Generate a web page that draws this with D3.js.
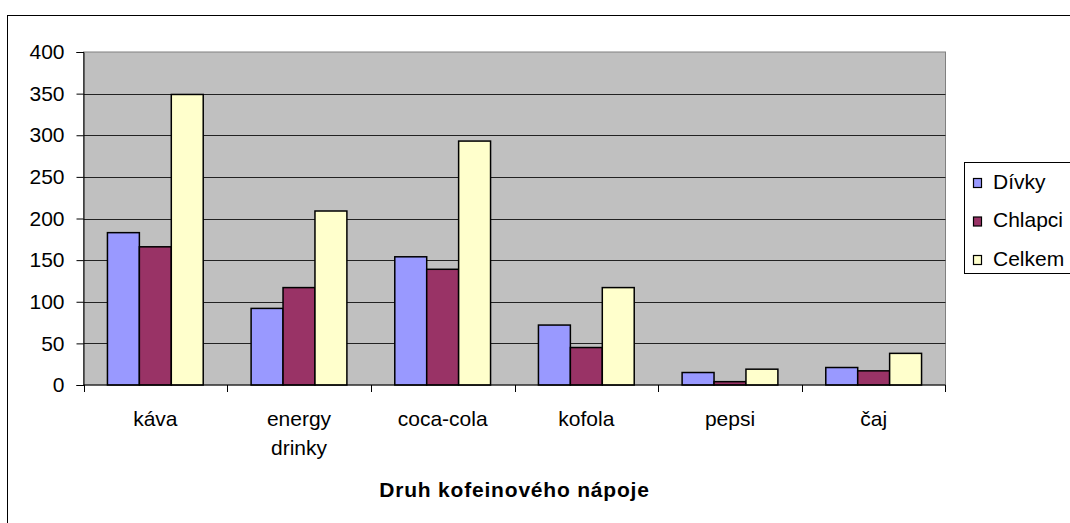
<!DOCTYPE html>
<html>
<head>
<meta charset="utf-8">
<script src="https://cdn.jsdelivr.net/npm/d3@7"></script>
<style>
  html, body { margin: 0; padding: 0; background: #fff; }
  svg { display: block; font-family: "Liberation Sans", Arial, sans-serif; }
</style>
</head>
<body>
<svg id="chart" width="1070" height="523"></svg>
<script>
// Caffeinated drinks by group
const categories = ["káva", "energy drinky", "coca-cola", "kofola", "pepsi", "čaj"];
const seriesNames = ["Dívky", "Chlapci", "Celkem"];
const divky   = [183, 92, 154, 72, 15, 21];
const chlapci = [166, 117, 139, 45, 4, 17];
const celkem  = [349, 209, 293, 117, 19, 38];
const yTicks  = [0, 50, 100, 150, 200, 250, 300, 350, 400];
const axisTitle = "Druh kofeinového nápoje";

const seriesValues = [divky, chlapci, celkem];
const colors = ["#9999ff", "#993366", "#ffffcc"];
const FONT = 21;

const svg = d3.select("#chart");
const plot = { left: 83.5, right: 945.5, top: 52, bottom: 385 };

// outer chart frame (runs past the window on the right and bottom)
svg.append("rect")
  .attr("x", 7.5).attr("y", 15.5)
  .attr("width", 1200).attr("height", 700)
  .attr("fill", "#fff").attr("stroke", "#000").attr("stroke-width", 1);

const x = d3.scaleBand().domain(categories).range([plot.left, plot.right]).padding(0);
const step = x.bandwidth();
const gap = step * 1.5 / 4.5;
const xs = d3.scaleBand().domain(seriesNames).range([gap / 2, step - gap / 2]).padding(0);
const y = d3.scaleLinear().domain([0, 400]).range([plot.bottom, plot.top]);

// plot background
svg.append("rect")
  .attr("x", plot.left).attr("y", plot.top)
  .attr("width", plot.right - plot.left).attr("height", plot.bottom - plot.top)
  .attr("fill", "#c0c0c0").attr("stroke", "#808080").attr("stroke-width", 1);

// horizontal gridlines
svg.append("g").selectAll("line")
  .data(yTicks.filter(t => t > 0 && t < 400))
  .join("line")
  .attr("x1", plot.left).attr("x2", plot.right)
  .attr("y1", d => Math.round(y(d)) + 0.5).attr("y2", d => Math.round(y(d)) + 0.5)
  .attr("stroke", "#222").attr("stroke-width", 1);

// bars
const rows = categories.map((c, i) => ({ cat: c, vals: seriesNames.map((s, j) => ({ s, j, v: seriesValues[j][i] })) }));
svg.append("g").selectAll("g")
  .data(rows)
  .join("g")
  .attr("transform", d => `translate(${x(d.cat)},0)`)
  .selectAll("rect")
  .data(d => d.vals)
  .join("rect")
  .attr("x", d => xs(d.s))
  .attr("y", d => y(d.v))
  .attr("width", xs.bandwidth())
  .attr("height", d => y(0) - y(d.v))
  .attr("fill", d => colors[d.j])
  .attr("stroke", "#000").attr("stroke-width", 1.5);

// y axis
const yAxis = svg.append("g")
  .attr("transform", `translate(${plot.left},0)`)
  .call(d3.axisLeft(y).tickValues(yTicks).tickSize(7).tickPadding(12).tickFormat(d3.format("d")));
yAxis.select(".domain").attr("stroke", "#000");
yAxis.selectAll(".tick line").attr("stroke", "#000");
yAxis.selectAll("text").attr("font-size", FONT).attr("fill", "#000")
  .attr("font-family", '"Liberation Sans", Arial, sans-serif');

// x axis line and boundary ticks
svg.append("line")
  .attr("x1", plot.left).attr("x2", plot.right)
  .attr("y1", plot.bottom).attr("y2", plot.bottom)
  .attr("stroke", "#000").attr("stroke-width", 1);
const bounds = categories.map(c => x(c)).concat([x(categories[categories.length - 1]) + step]);
svg.append("g").selectAll("line")
  .data(bounds)
  .join("line")
  .attr("x1", d => Math.round(d) + 0.5).attr("x2", d => Math.round(d) + 0.5)
  .attr("y1", plot.bottom).attr("y2", plot.bottom + 7)
  .attr("stroke", "#000").attr("stroke-width", 1);

// category labels (long ones wrap onto two lines)
const labels = svg.append("g").selectAll("text")
  .data(categories)
  .join("text")
  .attr("text-anchor", "middle")
  .attr("font-size", FONT)
  .attr("fill", "#000")
  .attr("x", d => x(d) + step / 2)
  .attr("y", plot.bottom + 41);
labels.each(function(d) {
  const words = d.split(" ");
  const t = d3.select(this);
  words.forEach((w, i) => {
    t.append("tspan")
      .attr("x", x(d) + step / 2)
      .attr("dy", i === 0 ? 0 : 29)
      .text(w);
  });
});

// axis title
svg.append("text")
  .attr("x", (plot.left + plot.right) / 2)
  .attr("y", 497)
  .attr("text-anchor", "middle")
  .attr("font-size", FONT)
  .attr("font-weight", "bold")
  .attr("letter-spacing", 0.8)
  .attr("fill", "#000")
  .text(axisTitle);

// legend
const legend = svg.append("g");
legend.append("rect")
  .attr("x", 964.5).attr("y", 162.5)
  .attr("width", 200).attr("height", 111)
  .attr("fill", "#fff").attr("stroke", "#000").attr("stroke-width", 1);
const items = legend.selectAll("g.item")
  .data(seriesNames)
  .join("g")
  .attr("class", "item")
  .attr("transform", (d, i) => `translate(0,${183 + i * 38.5})`);
items.append("rect")
  .attr("x", 973.5).attr("y", -4.5)
  .attr("width", 8).attr("height", 9)
  .attr("fill", (d, i) => colors[i])
  .attr("stroke", "#000").attr("stroke-width", 1.2);
items.append("text")
  .attr("x", 993).attr("y", 5.5)
  .attr("font-size", FONT)
  .attr("fill", "#000")
  .text(d => d);
</script>
</body>
</html>
